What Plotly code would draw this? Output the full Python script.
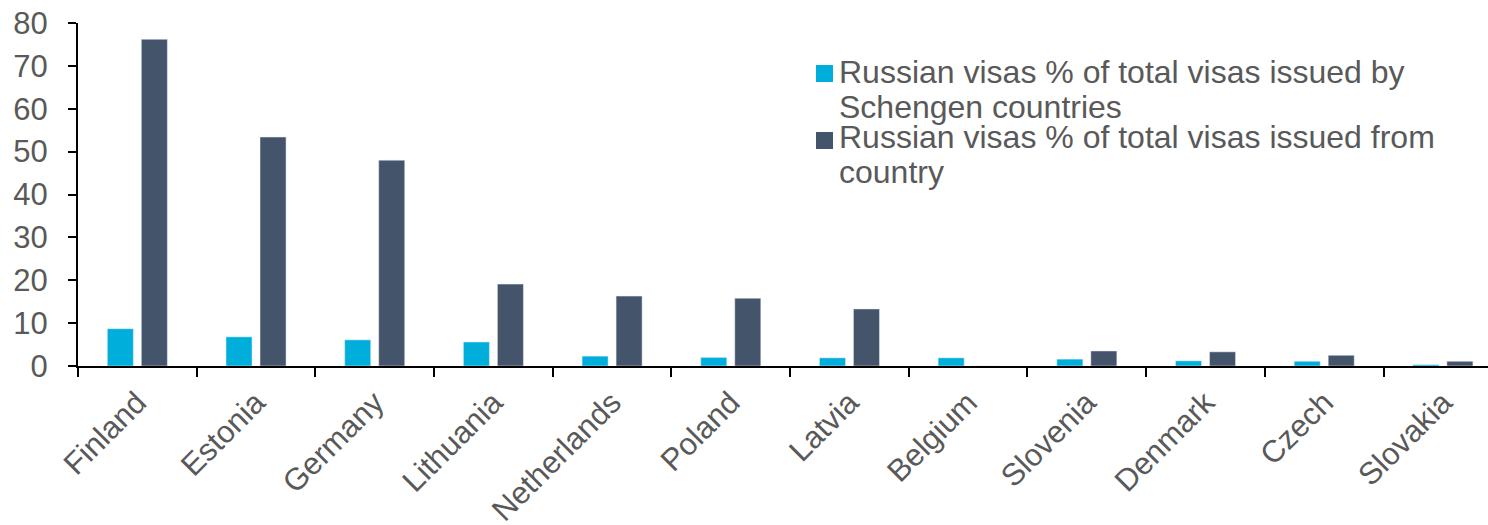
import plotly.graph_objects as go

countries = ["Finland", "Estonia", "Germany", "Lithuania", "Netherlands", "Poland",
             "Latvia", "Belgium", "Slovenia", "Denmark", "Czech", "Slovakia"]
schengen_share = [8.7, 6.8, 6.1, 5.6, 2.3, 2.0, 1.9, 1.9, 1.6, 1.2, 1.1, 0.3]
country_share = [76.2, 53.4, 48.0, 19.1, 16.3, 15.8, 13.3, 0.0, 3.5, 3.3, 2.5, 1.1]
y_ticks = [0, 10, 20, 30, 40, 50, 60, 70, 80]

legend1_lines = ["Russian visas % of total visas issued by", "Schengen countries"]
legend2_lines = ["Russian visas % of total visas issued from", "country"]
color1 = "#00AEDB"
color2 = "#44546A"
text_color = "#595959"

W, H = 1488, 525
L, R, T, B = 78, 0, 23, 159
PW, PH = W - L - R, H - T - B


def px_x(x):
    return (x - L) / PW


def px_y(y):
    return (H - B - y) / PH


fig = go.Figure()
fig.add_trace(go.Bar(x=countries, y=schengen_share, name=" ".join(legend1_lines),
                     marker_color=color1, showlegend=False))
fig.add_trace(go.Bar(x=countries, y=country_share, name=" ".join(legend2_lines),
                     marker_color=color2, showlegend=False))

font_family = "Liberation Sans, Arial, sans-serif"

# legend drawn as swatches + text lines (tight line spacing as in the reference)
legend_entries = [(color1, legend1_lines, 65, [72, 107]),
                  (color2, legend2_lines, 132, [137, 172])]
for color, lines, sq_top, centers in legend_entries:
    fig.add_shape(type="rect", xref="paper", yref="paper",
                  x0=px_x(816), x1=px_x(833), y0=px_y(sq_top + 17), y1=px_y(sq_top),
                  fillcolor=color, line_width=0)
    for line, cy in zip(lines, centers):
        fig.add_annotation(xref="paper", yref="paper", x=px_x(838), y=px_y(cy),
                           xanchor="left", yanchor="middle", text=line,
                           showarrow=False, borderpad=0,
                           font=dict(size=32, color=text_color, family=font_family))

fig.update_layout(
    width=W, height=H,
    margin=dict(l=L, r=R, t=T, b=B, autoexpand=False),
    paper_bgcolor="white", plot_bgcolor="white",
    barmode="group", bargap=0.427, bargroupgap=0.235,
    font=dict(family=font_family, size=31, color=text_color),
    showlegend=False,
)
fig.update_xaxes(
    range=[-0.5, 11.38], tickangle=-45, tickson="boundaries",
    ticks="outside", ticklen=9, tickwidth=2, tickcolor="black",
    showline=True, linecolor="black", linewidth=2, showgrid=False,
    tickfont=dict(size=31, color=text_color), ticklabelstandoff=4,
)
fig.update_yaxes(
    range=[0, 80], tickvals=y_ticks, ticks="outside", ticklen=8, tickwidth=2,
    tickcolor="black", showline=True, linecolor="black", linewidth=2,
    showgrid=False, zeroline=False, tickfont=dict(size=31, color=text_color),
    ticklabelstandoff=14,
)

fig.write_html("out.html", config={"displayModeBar": False},
               post_script="document.body.style.margin='0';")
